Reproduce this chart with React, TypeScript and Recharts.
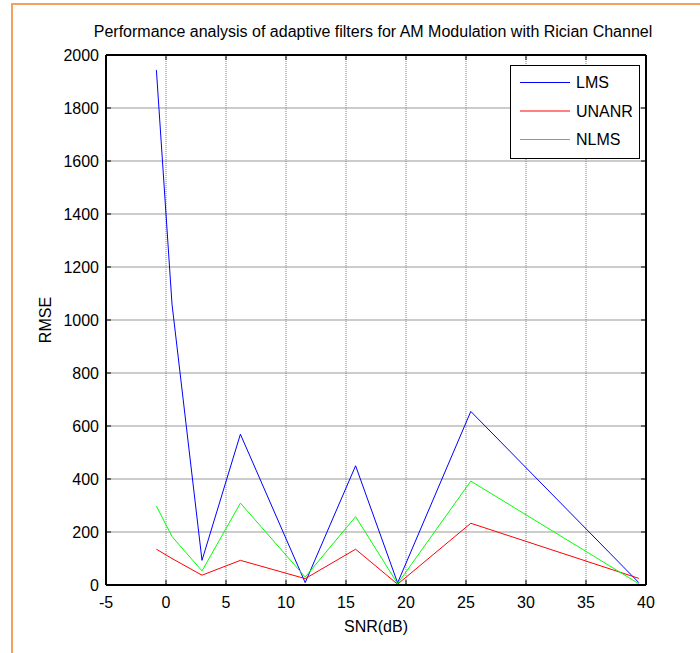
import React from 'react';
import { LineChart, Line, XAxis, YAxis, CartesianGrid, ReferenceLine } from 'recharts';

const snr = [-0.8, 0.5, 3.0, 6.2, 11.6, 15.8, 19.3, 25.4, 39.4];
const lms = [1943, 1060, 93, 569, 9, 450, 8, 655, 9];
const unanr = [135, 100, 37, 93, 24, 135, 3, 233, 25];
const nlms = [298, 183, 53, 309, 30, 258, 5, 392, 5];

const xTicks = [-5, 0, 5, 10, 15, 20, 25, 30, 35, 40];
const yTicks = [0, 200, 400, 600, 800, 1000, 1200, 1400, 1600, 1800, 2000];
const xDomain: [number, number] = [-5, 40];
const yDomain: [number, number] = [0, 2000];

const seriesNames = ['LMS', 'UNANR', 'NLMS'];
const seriesColors = ['#0000ff', '#ff0000', '#00ff00'];

const data = snr.map((x, i) => ({ snr: x, LMS: lms[i], UNANR: unanr[i], NLMS: nlms[i] }));

const FONT = '"Liberation Sans", Arial, sans-serif';
const tickStyle = { fill: '#000', fontSize: 16, fontFamily: FONT };

const LegendBox = () => (
  <svg width={131} height={95} style={{ position: 'absolute', left: 510, top: 65, display: 'block' }}>
    <rect x={0.5} y={0.5} width={129} height={93} fill="#fff" stroke="#000" strokeWidth={1} />
    {seriesNames.map((name, i) => (
      <g key={name}>
        <line x1={10} x2={60} y1={17.5 + i * 28.5} y2={17.5 + i * 28.5} stroke={seriesColors[i]} strokeWidth={1} />
        <text x={66} y={23 + i * 28.5} fontSize={16} fontFamily={FONT} fill="#000">{name}</text>
      </g>
    ))}
  </svg>
);

export default function App() {
  return (
    <div style={{ position: 'absolute', left: 0, top: 0, width: 700, height: 653, background: '#fff', fontFamily: FONT }}>
      <div style={{ position: 'absolute', left: 11, top: 3, right: 0, bottom: 0, borderLeft: '2px solid #f6a060', borderTop: '2px solid #f6a060' }} />
      <div style={{ position: 'absolute', left: 73, width: 600, top: 23, textAlign: 'center', fontSize: 16, fontFamily: FONT, color: '#000', whiteSpace: 'nowrap' }}>
        Performance analysis of adaptive filters for AM Modulation with Rician Channel
      </div>
      <div style={{ position: 'absolute', left: 0, top: 0 }}>
        <LineChart width={700} height={653} data={data} margin={{ top: 54, right: 53, left: 46, bottom: 38 }}>
          <CartesianGrid horizontal={true} vertical={false} stroke="#999" strokeWidth={1.2} />
          <CartesianGrid horizontal={false} vertical={true} stroke="#808080" strokeWidth={1} strokeDasharray="1 1" />
          <XAxis
            dataKey="snr"
            type="number"
            domain={xDomain}
            ticks={xTicks}
            interval={0}
            height={30}
            tickSize={-5}
            tickMargin={17}
            tick={tickStyle}
            axisLine={{ stroke: '#000', strokeWidth: 2 }}
            tickLine={{ stroke: '#000' }}
            label={{ value: 'SNR(dB)', position: 'bottom', offset: 6, style: { fill: '#000', fontSize: 16, fontFamily: FONT } }}
          />
          <XAxis
            xAxisId="top"
            orientation="top"
            dataKey="snr"
            type="number"
            domain={xDomain}
            ticks={xTicks}
            interval={0}
            height={1}
            tickSize={-5}
            tickMargin={0}
            tick={{ fill: 'none', fontSize: 1 }}
            axisLine={{ stroke: '#000', strokeWidth: 2 }}
            tickLine={{ stroke: '#000' }}
          />
          <YAxis
            type="number"
            domain={yDomain}
            ticks={yTicks}
            interval={0}
            width={60}
            tickSize={-5}
            tickMargin={12}
            tick={tickStyle}
            axisLine={{ stroke: '#000', strokeWidth: 2 }}
            tickLine={{ stroke: '#000' }}
            label={{ value: 'RMSE', angle: -90, position: 'insideLeft', offset: -1, style: { fill: '#000', fontSize: 16, fontFamily: FONT, textAnchor: 'middle' } }}
          />
          <YAxis
            yAxisId="right"
            orientation="right"
            type="number"
            domain={yDomain}
            ticks={yTicks}
            interval={0}
            width={1}
            tickSize={-5}
            tickMargin={0}
            tick={{ fill: 'none', fontSize: 1 }}
            axisLine={{ stroke: '#000', strokeWidth: 2 }}
            tickLine={{ stroke: '#000' }}
          />
          <ReferenceLine y={yDomain[1]} stroke="#000" strokeWidth={2} />
          <ReferenceLine x={xDomain[1]} stroke="#000" strokeWidth={2} />
          {seriesNames.map((name, i) => (
            <Line
              key={name}
              dataKey={name}
              name={name}
              type="linear"
              xAxisId={i === 2 ? 'top' : 0}
              yAxisId={i === 2 ? 'right' : 0}
              stroke={seriesColors[i]}
              strokeWidth={1}
              dot={false}
              activeDot={false}
              isAnimationActive={false}
            />
          ))}
        </LineChart>
      </div>
      <LegendBox />
    </div>
  );
}
